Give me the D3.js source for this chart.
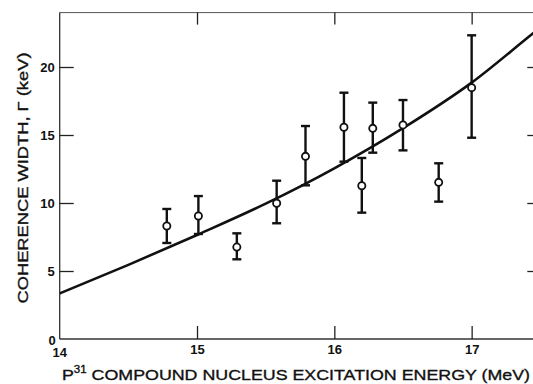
<!DOCTYPE html>
<html>
<head>
<meta charset="utf-8">
<script src="https://cdn.jsdelivr.net/npm/d3@7"></script>
<style>
  html, body { margin: 0; padding: 0; background: #fff; }
  svg { display: block; }
  text { font-family: "Liberation Sans", Arial, sans-serif; fill: #111; }
</style>
</head>
<body>
<svg id="chart" width="533" height="384"></svg>
<script>
// Measured points: excitation energy (MeV), coherence width (keV), error bar low/high
const energy = [14.78, 15.01, 15.29, 15.58, 15.79, 16.07, 16.20, 16.28, 16.50, 16.76, 17.00];
const widthKeV = [8.31, 9.04, 6.76, 9.98, 13.43, 15.57, 11.27, 15.49, 15.74, 11.52, 18.48];
const errLow = [7.06, 7.72, 5.86, 8.51, 11.30, 13.04, 9.29, 13.70, 13.87, 10.10, 14.80];
const errHigh= [9.56, 10.51, 7.77, 11.64, 15.66, 18.11, 13.31, 17.38, 17.57, 12.92, 22.33];

// Theoretical curve
const curveE = [14.0, 14.5, 15.0, 15.5, 16.0, 16.5, 17.0, 17.45, 17.6];
const curveW = [3.35, 5.45, 7.65, 9.95, 12.55, 15.5, 18.85, 22.5, 23.7];

const xTicks = [15, 16, 17];
const yTicks = [5, 10, 15, 20];

(function () {
const svg = d3.select("#chart");
const x = d3.scaleLinear().domain([14, 17.5]).range([59.7, 540.3]);
const y = d3.scaleLinear().domain([0, 24]).range([339, 12.6]);

// frame
svg.append("line").attr("x1", x(14)).attr("x2", 545).attr("y1", y(24)).attr("y2", y(24))
  .attr("stroke", "#555").attr("stroke-width", 1);
svg.append("line").attr("x1", x(14)).attr("x2", 545).attr("y1", y(0)).attr("y2", y(0))
  .attr("stroke", "#333").attr("stroke-width", 1.3);
svg.append("line").attr("x1", x(14)).attr("x2", x(14)).attr("y1", y(0)).attr("y2", y(24))
  .attr("stroke", "#333").attr("stroke-width", 1.3);

// axes via d3
const gBottom = svg.append("g").attr("transform", `translate(0,${y(0)})`)
  .call(d3.axisBottom(x).tickValues(xTicks).tickSizeInner(-13).tickSizeOuter(0).tickPadding(6).tickFormat(d3.format("d")));
const gTop = svg.append("g").attr("transform", `translate(0,${y(24)})`)
  .call(d3.axisTop(x).tickValues(xTicks).tickSizeInner(-12).tickSizeOuter(0).tickFormat(""));
const gLeft = svg.append("g").attr("transform", `translate(${x(14)},0)`)
  .call(d3.axisLeft(y).tickValues(yTicks).tickSizeInner(-14).tickSizeOuter(0).tickPadding(6).tickFormat(d3.format("d")));
const gRight = svg.append("g").attr("transform", `translate(${x(17.5)},0)`)
  .call(d3.axisRight(y).tickValues(yTicks).tickSizeInner(-13).tickSizeOuter(0).tickFormat(""));

[gBottom, gTop, gLeft, gRight].forEach(g => {
  g.select(".domain").remove();
  g.selectAll(".tick line").attr("stroke", "#222").attr("stroke-width", 1.3);
  g.selectAll(".tick text").attr("font-size", 13).attr("font-weight", "bold")
    .attr("font-family", "'Liberation Sans', Arial, sans-serif").attr("fill", "#111");
});
gLeft.selectAll(".tick text").attr("x", -5);

// corner labels "0" and "14"
svg.append("text").attr("x", x(14) - 4).attr("y", y(0) + 6).attr("text-anchor", "end")
  .attr("font-size", 13).attr("font-weight", "bold").text("0");
svg.append("text").attr("x", x(14)).attr("y", y(0) + 18).attr("text-anchor", "middle")
  .attr("font-size", 13).attr("font-weight", "bold").text("14");

// curve
const line = d3.line().x((d, i) => x(curveE[i])).y((d, i) => y(curveW[i])).curve(d3.curveMonotoneX);
svg.append("defs").append("clipPath").attr("id", "clip")
  .append("rect").attr("x", x(14)).attr("y", y(24)).attr("width", 600).attr("height", y(0) - y(24));
svg.append("path").datum(curveE).attr("d", line).attr("fill", "none")
  .attr("stroke", "#111").attr("stroke-width", 2.6).attr("clip-path", "url(#clip)");

// error bars
const idx = d3.range(energy.length);
const eb = svg.append("g").attr("stroke", "#111").attr("stroke-width", 2.4);
eb.selectAll(".v").data(idx).join("line").attr("class", "v")
  .attr("x1", i => x(energy[i])).attr("x2", i => x(energy[i]))
  .attr("y1", i => y(errLow[i])).attr("y2", i => y(errHigh[i]));
eb.selectAll(".ct").data(idx).join("line").attr("class", "ct")
  .attr("x1", i => x(energy[i]) - 4.5).attr("x2", i => x(energy[i]) + 4.5)
  .attr("y1", i => y(errHigh[i])).attr("y2", i => y(errHigh[i]));
eb.selectAll(".cb").data(idx).join("line").attr("class", "cb")
  .attr("x1", i => x(energy[i]) - 4.5).attr("x2", i => x(energy[i]) + 4.5)
  .attr("y1", i => y(errLow[i])).attr("y2", i => y(errLow[i]));

// points
svg.append("g").selectAll("circle").data(idx).join("circle")
  .attr("cx", i => x(energy[i])).attr("cy", i => y(widthKeV[i])).attr("r", 3.6)
  .attr("fill", "#fff").attr("stroke", "#111").attr("stroke-width", 1.8);

// axis titles
const xt = svg.append("text").attr("x", 62).attr("y", 380).attr("font-size", 15.5)
  .attr("stroke", "#111").attr("stroke-width", 0.35)
  .attr("textLength", 468).attr("lengthAdjust", "spacingAndGlyphs");
xt.append("tspan").text("P");
xt.append("tspan").attr("font-size", 10).attr("dy", -7).text("31");
xt.append("tspan").attr("dy", 7).text(" COMPOUND  NUCLEUS  EXCITATION  ENERGY (MeV)");

svg.append("text").attr("transform", "translate(28,178) rotate(-90)")
  .attr("text-anchor", "middle").attr("font-size", 15.5)
  .attr("stroke", "#111").attr("stroke-width", 0.35)
  .attr("textLength", 251).attr("lengthAdjust", "spacingAndGlyphs")
  .text("COHERENCE  WIDTH, Γ (keV)");
})();
</script>
</body>
</html>
